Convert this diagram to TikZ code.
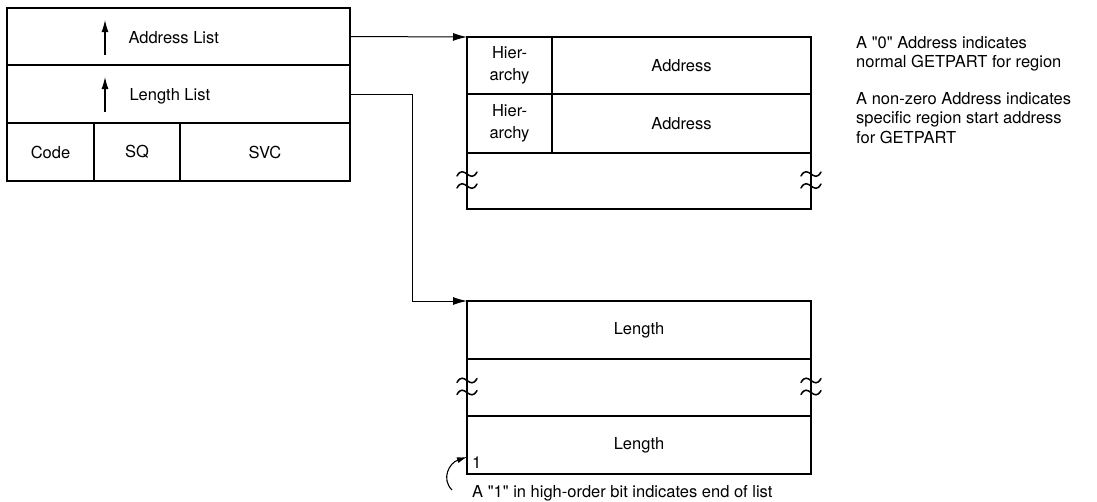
\documentclass[tikz,border=0pt]{standalone}
\usepackage{fontspec}
\setmainfont{TeX Gyre Heros}[Ligatures=TeXOff]
\usetikzlibrary{arrows.meta}
\begin{document}
\begin{tikzpicture}[x=1pt,y=-1pt,
  every node/.style={font=\fontsize{16.5}{22}\selectfont},
  cell/.style={draw,line width=1.8pt,inner sep=0pt,outer sep=0pt},
  conn/.style={line width=1pt,-{Latex[length=14pt,width=8pt]}},
  ptr/.style={line width=1.1pt,-{Latex[length=12pt,width=7pt]}},
  brk/.pic={\draw[line width=1.5pt,line cap=round] (-10,2) .. controls (-3,-11) and (3,11) .. (10,-2);}]
\useasboundingbox (0,0) rectangle (1097,501);

% parameter list
\node[cell,minimum width=343,minimum height=57] (addrrow) at (178.5,36.5) {};
\node[cell,minimum width=343,minimum height=58] (lenrow) at (178.5,94) {};
\node[cell,minimum width=87,minimum height=58] (code) at (50.5,152) {Code};
\node[cell,minimum width=86,minimum height=58] (sq) at (137,152) {SQ};
\node[cell,minimum width=170,minimum height=58] (svc) at (265,152) {SVC};
\node[anchor=west] (addrtxt) at (125,38) {Address List};
\node[anchor=west] (lentxt) at (126,96) {Length List};
\draw[ptr] (105,55) -- (105,20);
\draw[ptr] (105,112) -- (105,77);

% address list
\node[cell,minimum width=85,minimum height=57,align=center] (hier1) at (509.5,65.5) {Hier-\\archy};
\node[cell,minimum width=259,minimum height=57] (addr1) at (681.5,65.5) {Address};
\node[cell,minimum width=85,minimum height=59,align=center] (hier2) at (509.5,123.5) {Hier-\\archy};
\node[cell,minimum width=259,minimum height=59] (addr2) at (681.5,123.5) {Address};
\node[cell,minimum width=344,minimum height=56] (ablank) at (639,181) {};
\pic at ([yshift=-5pt]ablank.west) {brk};
\pic at ([yshift=7pt]ablank.west) {brk};
\pic at ([yshift=-5pt]ablank.east) {brk};
\pic at ([yshift=7pt]ablank.east) {brk};

% length list
\node[cell,minimum width=344,minimum height=58] (len1) at (639,330) {Length};
\node[cell,minimum width=344,minimum height=57] (lgap) at (639,387.5) {};
\node[cell,minimum width=344,minimum height=58] (len2) at (639,445) {Length};
\pic at ([yshift=-5pt]lgap.west) {brk};
\pic at ([yshift=7pt]lgap.west) {brk};
\pic at ([yshift=-5pt]lgap.east) {brk};
\pic at ([yshift=7pt]lgap.east) {brk};
\node[anchor=base west,inner sep=0pt] (one) at (472,468) {1};

% connectors
\draw[conn] (addrrow.east) -- (hier1.north west);
\coordinate (bend) at (412,94);
\draw[conn] (lenrow.east) -- (bend) |- (len1.north west);

% notes
\node[anchor=north west,align=left,inner sep=0pt,font=\fontsize{16.5}{19.5}\selectfont] (note) at (856,36)
  {A "0" Address indicates\\normal GETPART for region\\[17pt]
   A non-zero Address indicates\\specific region start address\\for GETPART};
\node[anchor=base west,inner sep=0pt] (endnote) at (472,497) {A "1" in high-order bit indicates end of list};
\coordinate (cstart) at (452,490);
\draw[line width=1.1pt,-{Latex[length=10pt,width=6pt]}] (cstart) .. controls (441,479) and (449,463) .. (467,457);
\end{tikzpicture}
\end{document}
